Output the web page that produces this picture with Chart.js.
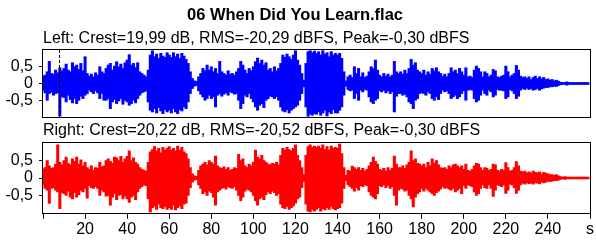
<!DOCTYPE html>
<html lang="en">
<head>
<meta charset="UTF-8">
<title>06 When Did You Learn.flac</title>
<script src="https://cdn.jsdelivr.net/npm/chart.js"></script>
<style>
  body { margin: 0; background: #fff; }
  .panel { position: absolute; left: 0; width: 596px; height: 120px; }
  #topPanel { top: 0; }
  #bottomPanel { top: 120px; }
</style>
</head>
<body>
<div class="panel" id="topPanel"><canvas id="leftChart"></canvas></div>
<div class="panel" id="bottomPanel"><canvas id="rightChart"></canvas></div>

<script>
const fileTitle = '06 When Did You Learn.flac';
const leftLabel = 'Left: Crest=19,99 dB, RMS=-20,29 dBFS, Peak=-0,30 dBFS';
const rightLabel = 'Right: Crest=20,22 dB, RMS=-20,52 dBFS, Peak=-0,30 dBFS';

const xTicks = [0, 20, 40, 60, 80, 100, 120, 140, 160, 180, 200, 220, 240, 260];
const yTicks = [-0.5, 0, 0.5];
const leftPeakTime = 7.6; // dashed marker in the left panel (seconds)

// waveform envelope, one value per second (0..259 s)
const leftMax = [
  .22,.25,.35,.66,.3,.28,.4,.32,.47,.38,
  .45,.58,.4,.35,.62,.5,.55,.42,.6,.38,
  .8,.3,.22,.28,.2,.32,.25,.5,.35,.3,
  .45,.55,.6,.4,.52,.65,.5,.58,.45,.62,
  .7,.86,.55,.6,.48,.62,.35,.3,.25,.2,
  .4,.85,.98,.8,.88,.75,.9,.82,.78,.92,
  .85,.78,.92,.8,.88,.75,.9,.82,.72,.6,
  .35,.15,.08,.06,.2,.3,.45,.38,.55,.4,
  .5,.35,.45,.3,.66,.35,.3,.25,.38,.28,
  .3,.25,.35,.45,.66,.55,.4,.3,.45,.38,
  .5,.65,.76,.6,.7,.55,.62,.4,.45,.35,
  .5,.38,.45,.6,.85,.78,.88,.8,.72,.85,
  .98,.7,.55,.3,.1,.6,.95,.98,.92,.97,
  .9,.95,.85,.98,.88,.92,.8,.95,.85,.9,
  .85,.9,.75,.35,.08,.2,.25,.18,.5,.3,
  .45,.2,.32,.18,.22,.35,.5,.45,.7,.4,
  .25,.2,.3,.22,.28,.2,.25,.66,.35,.3,
  .35,.28,.4,.3,.45,.72,.55,.62,.4,.35,
  .3,.4,.25,.35,.28,.45,.38,.47,.35,.3,
  .22,.28,.2,.3,.47,.35,.4,.3,.45,.35,
  .25,.47,.2,.22,.18,.4,.52,.45,.35,.2,
  .35,.3,.2,.25,.42,.38,.2,.18,.22,.25,
  .52,.35,.2,.25,.3,.54,.4,.22,.18,.2,
  .15,.2,.12,.18,.22,.15,.2,.14,.18,.12,
  .14,.1,.12,.08,.1,.07,.04,.03,.03,.05,
  .03,.03,.03,.03,.03,.03,.03,.03,.03,.03
];
const leftMin = [
  -.2,-.28,-.5,-.3,-.26,-.35,-.3,-.28,-.97,-.4,
  -.42,-.55,-.35,-.48,-.58,-.45,-.6,-.5,-.38,-.45,
  -.35,-.3,-.2,-.25,-.3,-.22,-.28,-.45,-.3,-.5,
  -.5,-.45,-.75,-.55,-.48,-.6,-.52,-.45,-.62,-.5,
  -.55,-.65,-.6,-.5,-.58,-.45,-.35,-.28,-.25,-.22,
  -.55,-.8,-.85,-.75,-.88,-.72,-.82,-.9,-.78,-.85,
  -.8,-.88,-.75,-.85,-.9,-.78,-.82,-.7,-.75,-.55,
  -.3,-.15,-.08,-.06,-.22,-.32,-.4,-.5,-.45,-.35,
  -.45,-.4,-.7,-.35,-.3,-.38,-.32,-.28,-.35,-.25,
  -.28,-.32,-.3,-.5,-.75,-.6,-.35,-.4,-.3,-.45,
  -.55,-.7,-.8,-.65,-.6,-.72,-.5,-.45,-.38,-.4,
  -.45,-.4,-.5,-.7,-.82,-.85,-.78,-.88,-.8,-.75,
  -.7,-.65,-.5,-.3,-.1,-.7,-.98,-.92,-.95,-.9,
  -.92,-.85,-.95,-.88,-.8,-.97,-.85,-.9,-.78,-.88,
  -.88,-.8,-.7,-.35,-.08,-.18,-.22,-.2,-.45,-.3,
  -.5,-.2,-.25,-.18,-.2,-.4,-.55,-.6,-.5,-.45,
  -.22,-.25,-.2,-.28,-.22,-.3,-.25,-.85,-.38,-.3,
  -.3,-.35,-.32,-.4,-.55,-.6,-.75,-.5,-.45,-.3,
  -.28,-.3,-.35,-.25,-.3,-.45,-.5,-.4,-.48,-.3,
  -.2,-.25,-.22,-.3,-.45,-.4,-.35,-.45,-.4,-.3,
  -.22,-.5,-.2,-.18,-.2,-.45,-.55,-.5,-.35,-.2,
  -.3,-.35,-.2,-.25,-.4,-.35,-.18,-.2,-.2,-.22,
  -.45,-.4,-.18,-.22,-.3,-.45,-.38,-.2,-.15,-.18,
  -.14,-.18,-.15,-.2,-.18,-.15,-.2,-.16,-.14,-.12,
  -.12,-.1,-.1,-.08,-.09,-.06,-.04,-.03,-.03,-.05,
  -.03,-.03,-.03,-.03,-.03,-.03,-.03,-.03,-.03,-.03
];
const rightMax = [
  .25,.3,.5,.35,.28,.3,.4,.95,.45,.38,
  .5,.6,.42,.38,.55,.48,.6,.4,.52,.35,
  .45,.3,.25,.35,.22,.3,.28,.45,.32,.35,
  .5,.55,.48,.42,.6,.58,.5,.62,.45,.55,
  .62,.78,.5,.58,.45,.4,.3,.25,.22,.2,
  .45,.75,.82,.9,.78,.85,.72,.88,.8,.85,
  .9,.8,.85,.78,.92,.8,.88,.75,.7,.55,
  .3,.12,.06,.05,.22,.35,.4,.45,.38,.5,
  .45,.4,.63,.35,.3,.28,.32,.25,.3,.22,
  .25,.3,.28,.68,.5,.55,.35,.3,.4,.35,
  .45,.8,.6,.55,.65,.5,.45,.4,.38,.42,
  .4,.45,.38,.65,.85,.8,.88,.82,.78,.85,
  .95,.65,.5,.3,.1,.65,.9,.95,.88,.92,
  .88,.92,.85,.95,.82,.9,.8,.92,.85,.88,
  .85,.98,.7,.3,.08,.22,.2,.34,.3,.25,
  .3,.22,.28,.2,.25,.35,.45,.6,.48,.4,
  .25,.22,.28,.2,.3,.22,.28,.63,.4,.3,
  .3,.35,.28,.38,.45,.78,.5,.55,.42,.4,
  .35,.4,.3,.45,.35,.55,.42,.5,.38,.3,
  .28,.3,.25,.35,.3,.38,.4,.35,.3,.35,
  .25,.4,.22,.2,.25,.35,.42,.4,.3,.22,
  .3,.28,.22,.25,.4,.38,.22,.2,.25,.22,
  .44,.3,.2,.22,.3,.47,.35,.2,.18,.2,
  .15,.18,.14,.2,.16,.15,.18,.12,.16,.14,
  .12,.1,.1,.08,.1,.06,.04,.03,.04,.03,
  .03,.03,.03,.03,.03,.03,.03,.03,.03,.03
];
const rightMin = [
  -.2,-.3,-.35,-.73,-.3,-.28,-.35,-.4,-.88,-.42,
  -.45,-.5,-.38,-.55,-.6,-.42,-.55,-.48,-.35,-.4,
  -.3,-.58,-.22,-.28,-.3,-.25,-.3,-.5,-.35,-.4,
  -.52,-.5,-.78,-.55,-.45,-.62,-.5,-.48,-.6,-.52,
  -.6,-.7,-.55,-.5,-.62,-.4,-.3,-.25,-.2,-.22,
  -.6,-.98,-.85,-.8,-.9,-.75,-.85,-.88,-.82,-.9,
  -.85,-.9,-.78,-.92,-.85,-.8,-.88,-.75,-.72,-.5,
  -.28,-.12,-.06,-.05,-.2,-.3,-.45,-.4,-.5,-.38,
  -.42,-.55,-.78,-.4,-.35,-.3,-.28,-.32,-.25,-.28,
  -.3,-.25,-.35,-.5,-.65,-.55,-.38,-.32,-.35,-.4,
  -.5,-.65,-.78,-.6,-.55,-.62,-.48,-.4,-.45,-.38,
  -.42,-.5,-.45,-.75,-.85,-.88,-.82,-.9,-.85,-.8,
  -.72,-.6,-.55,-.28,-.1,-.75,-.95,-.98,-.9,-.95,
  -.9,-.85,-.95,-.88,-.92,-.85,-.9,-.82,-.88,-.92,
  -.88,-.85,-.72,-.3,-.08,-.2,-.25,-.3,-.38,-.28,
  -.35,-.22,-.25,-.2,-.22,-.4,-.5,-.55,-.6,-.45,
  -.22,-.25,-.2,-.28,-.22,-.3,-.25,-.5,-.78,-.35,
  -.3,-.32,-.38,-.35,-.5,-.6,-.83,-.55,-.45,-.4,
  -.3,-.38,-.3,-.35,-.4,-.45,-.5,-.42,-.38,-.32,
  -.25,-.3,-.28,-.32,-.35,-.3,-.4,-.35,-.3,-.45,
  -.22,-.3,-.2,-.22,-.25,-.4,-.5,-.45,-.3,-.2,
  -.28,-.3,-.2,-.3,-.53,-.35,-.2,-.22,-.25,-.2,
  -.44,-.35,-.18,-.2,-.28,-.44,-.35,-.2,-.15,-.18,
  -.14,-.16,-.15,-.18,-.14,-.15,-.17,-.12,-.14,-.12,
  -.1,-.1,-.09,-.08,-.08,-.06,-.04,-.03,-.04,-.03,
  -.03,-.03,-.03,-.03,-.03,-.03,-.03,-.03,-.03,-.03
];

Chart.defaults.font.family = '"Liberation Sans", Arial, sans-serif';
Chart.defaults.color = '#000';

// black frame around the plot area
const frame = {
  id: 'frame',
  afterDraw(chart) {
    const a = chart.chartArea;
    const ctx = chart.ctx;
    ctx.save();
    ctx.strokeStyle = '#000';
    ctx.lineWidth = 1;
    ctx.strokeRect(Math.round(a.left) - 0.5, Math.round(a.top) - 0.5,
      Math.round(a.right - a.left) + 1, Math.round(a.bottom - a.top) + 1);
    ctx.restore();
  }
};

// dashed vertical line where the peak is
const peakLine = {
  id: 'peakLine',
  afterDatasetsDraw(chart, args, opts) {
    if (opts.time == null) return;
    const a = chart.chartArea;
    const x = Math.round(chart.scales.x.getPixelForValue(opts.time)) + 0.5;
    const ctx = chart.ctx;
    ctx.save();
    ctx.strokeStyle = '#000';
    ctx.lineWidth = 1;
    ctx.setLineDash([3, 2]);
    ctx.beginPath();
    ctx.moveTo(x, a.top);
    ctx.lineTo(x, a.bottom);
    ctx.stroke();
    ctx.restore();
  }
};

function toBars(maxArr, minArr) {
  return maxArr.map((v, i) => ({ x: i, y: [minArr[i], v] }));
}

function makeChart(id, maxArr, minArr, color, header, opts) {
  const ctx = document.getElementById(id).getContext('2d');

  return new Chart(ctx, {
    type: 'bar',
    data: {
      datasets: [{
        data: toBars(maxArr, minArr),
        backgroundColor: color,
        borderWidth: 0,
        barPercentage: 1,
        categoryPercentage: 1,
        barThickness: 2.4
      }]
    },
    plugins: [frame, peakLine],
    options: {
      responsive: true,
      maintainAspectRatio: false,
      animation: false,
      devicePixelRatio: 1,
      layout: { padding: { left: 0, right: 6, top: 0, bottom: opts.padBottom } },
      plugins: {
        legend: { display: false },
        tooltip: { enabled: false },
        title: header.title,
        subtitle: header.subtitle,
        peakLine: { time: opts.peakTime }
      },
      scales: {
        x: {
          type: 'linear',
          min: 0,
          max: 260,
          offset: false,
          display: opts.showX,
          afterBuildTicks: s => { s.ticks = xTicks.map(v => ({ value: v })); },
          afterFit: s => { s.paddingLeft = 0; s.paddingRight = 0; },
          ticks: {
            autoSkip: false,
            maxRotation: 0,
            padding: 1,
            font: { size: 16 },
            callback: v => v === 0 ? '' : (v === 260 ? 's' : v)
          },
          grid: { offset: false, drawOnChartArea: false, tickLength: 6, color: '#000' },
          border: { display: false }
        },
        y: {
          min: -1,
          max: 1,
          afterBuildTicks: s => { s.ticks = yTicks.map(v => ({ value: v })); },
          afterFit: s => { s.width = 43; s.paddingTop = 0; s.paddingBottom = 0; },
          ticks: {
            padding: 6,
            font: { size: 16 },
            callback: v => String(v).replace('.', ',')
          },
          grid: { drawOnChartArea: false, tickLength: 4, color: '#000' },
          border: { display: false }
        }
      }
    }
  });
}

const headerFont = { family: '"Liberation Sans", Arial, sans-serif', size: 16, weight: 'normal', lineHeight: 1.2 };

makeChart('leftChart', leftMax, leftMin, '#0000ff', {
  title: {
    display: true,
    text: fileTitle,
    font: { family: headerFont.family, size: 16.5, weight: 'bold', lineHeight: 1.2 },
    padding: { top: 6, bottom: 2 }
  },
  subtitle: {
    display: true,
    text: leftLabel,
    align: 'start',
    fullSize: false,
    color: '#000',
    font: headerFont,
    padding: { top: 1, bottom: 2 }
  }
}, { peakTime: leftPeakTime, showX: false, padBottom: 3 });

makeChart('rightChart', rightMax, rightMin, '#ff0000', {
  title: {
    display: true,
    text: rightLabel,
    align: 'start',
    fullSize: false,
    font: headerFont,
    padding: { top: 1, bottom: 3 }
  },
  subtitle: { display: false }
}, { peakTime: null, showX: true, padBottom: 0 });
</script>
</body>
</html>
